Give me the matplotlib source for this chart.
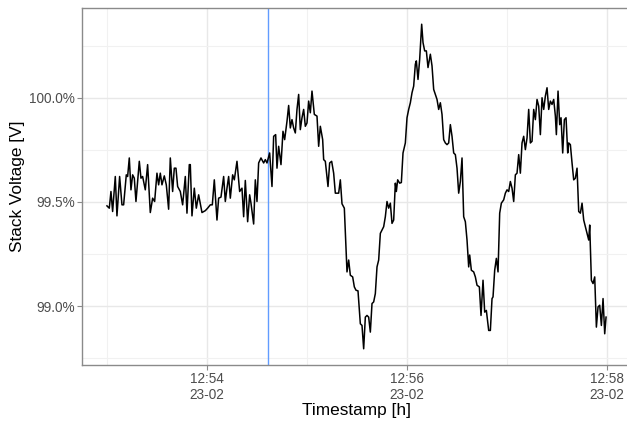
import matplotlib
matplotlib.use("Agg")
import matplotlib.pyplot as plt
import matplotlib.dates as mdates
from matplotlib.ticker import FuncFormatter, MultipleLocator
import numpy as np
import pandas as pd

# ---- data ----
start_time = "2023-02-23 12:53:00"
seconds = [0, 1.4, 2.4, 3.4, 5, 6, 7.6, 9, 10, 11.6, 12.4, 13.4, 14.4, 15.4, 16.4, 17.4, 19.4, 20.4, 21.4, 23,
           24.4, 26, 27.4, 28.6, 30, 31, 32, 33, 34.4, 35.6, 37, 38, 39.4, 40.4, 41.4, 42.4, 44, 45.4, 47, 48,
           49.4, 50, 51, 52.4, 53.6, 55, 57, 59, 60.4, 62, 63.2, 64.4, 66, 67, 68.4, 70, 71, 72, 73, 74,
           75.4, 76.4, 78, 79.6, 81, 82, 83, 84.4, 85.6, 86.4, 88, 89, 90, 91, 92.4, 94, 95, 96, 97.6, 99,
           100, 101.2, 102, 103, 104.4, 105.6, 106.6, 108, 109, 110, 111, 112, 113, 114, 115, 116, 117, 118, 119, 120,
           121, 122, 123, 124.4, 126, 127, 128, 129.4, 130, 131, 132.6, 133.6, 134.8, 136, 137, 139, 140, 141, 142.4, 144,
           145, 146, 147.4, 148.4, 149.4, 150.6, 152, 153, 154, 155, 156, 157, 158, 159, 160, 161, 162, 163, 164, 165,
           166, 167, 168, 169, 170, 171, 172, 173, 173.6, 174.4, 175.6, 176.6, 177.6, 179, 180, 181, 182, 183, 184, 185,
           185.6, 186.6, 187.6, 188.8, 189.6, 190.6, 191.6, 192.6, 194, 195, 196, 197, 198, 199, 200, 201, 202, 203, 204, 205,
           206, 207, 208, 209, 210, 211, 212, 213, 214, 215, 216, 217, 217.6, 218.6, 220, 221, 222, 223.4, 224.4, 225.6,
           226.6, 227.6, 229, 230, 231, 231.6, 232.6, 233.6, 234.6, 235.6, 236.6, 238, 239, 240, 241, 242, 243, 244, 245, 246,
           247, 248, 249, 250, 251, 252, 253, 254, 255, 256, 257, 258, 259, 260, 261, 262, 263, 264, 265, 266,
           267, 268, 269, 269.6, 270.6, 271.6, 272.4, 273.4, 274.4, 275.4, 276.4, 277, 278, 279, 280, 281, 282, 283, 284, 285,
           286, 287, 288, 289, 289.6, 290.6, 291.6, 292.6, 293.6, 294.6, 295.6, 296.6, 297.6, 298.6, 299.4]
voltage = [99.481, 99.470, 99.550, 99.454, 99.622, 99.433, 99.622, 99.486, 99.486, 99.630, 99.622, 99.711, 99.558, 99.630, 99.614, 99.502, 99.695, 99.614, 99.622, 99.558,
           99.679, 99.449, 99.518, 99.502, 99.638, 99.582, 99.638, 99.582, 99.625, 99.582, 99.465, 99.711, 99.550, 99.662, 99.662, 99.574, 99.550, 99.486, 99.622, 99.446,
           99.679, 99.679, 99.433, 99.566, 99.470, 99.534, 99.449, 99.458, 99.470, 99.486, 99.486, 99.606, 99.413, 99.518, 99.523, 99.622, 99.502, 99.566, 99.622, 99.518,
           99.630, 99.606, 99.695, 99.550, 99.566, 99.429, 99.603, 99.405, 99.534, 99.494, 99.394, 99.606, 99.502, 99.687, 99.711, 99.687, 99.703, 99.687, 99.735, 99.574,
           99.815, 99.823, 99.662, 99.767, 99.679, 99.839, 99.799, 99.887, 99.963, 99.855, 99.895, 99.855, 99.831, 99.944, 100.016, 99.847, 99.904, 99.944, 99.863, 99.879,
           99.984, 99.928, 100.032, 99.920, 99.912, 99.767, 99.863, 99.799, 99.703, 99.695, 99.574, 99.687, 99.695, 99.638, 99.542, 99.542, 99.606, 99.491, 99.470, 99.164,
           99.221, 99.148, 99.140, 99.092, 99.076, 99.073, 98.915, 98.907, 98.795, 98.947, 98.955, 98.947, 98.875, 99.012, 99.020, 99.060, 99.188, 99.221, 99.349, 99.365,
           99.381, 99.429, 99.502, 99.470, 99.494, 99.397, 99.413, 99.590, 99.550, 99.606, 99.590, 99.593, 99.735, 99.783, 99.904, 99.944, 99.976, 100.024, 100.056, 100.161,
           100.177, 100.088, 100.185, 100.353, 100.265, 100.225, 100.225, 100.145, 100.209, 100.153, 100.040, 100.016, 99.992, 99.944, 99.976, 99.920, 99.799, 99.783, 99.775, 99.783,
           99.871, 99.815, 99.735, 99.727, 99.662, 99.542, 99.598, 99.711, 99.429, 99.405, 99.317, 99.188, 99.245, 99.172, 99.164, 99.140, 99.100, 99.092, 98.955, 99.124,
           98.971, 98.979, 98.883, 98.883, 99.036, 99.044, 99.172, 99.229, 99.164, 99.446, 99.494, 99.510, 99.542, 99.558, 99.550, 99.598, 99.566, 99.502, 99.630, 99.638,
           99.727, 99.638, 99.783, 99.815, 99.751, 99.807, 99.944, 99.783, 99.791, 99.944, 99.895, 99.992, 99.960, 99.823, 100.000, 99.944, 100.008, 100.048, 99.944, 99.984,
           99.968, 99.992, 99.912, 99.823, 100.032, 99.871, 99.904, 99.735, 99.895, 99.904, 99.735, 99.783, 99.775, 99.687, 99.606, 99.614, 99.662, 99.454, 99.446, 99.494,
           99.413, 99.381, 99.349, 99.317, 99.389, 99.124, 99.108, 99.140, 98.899, 98.996, 99.004, 98.907, 99.036, 98.867, 98.947]
marker_time = "2023-02-23 12:54:36.8"
x_label = "Timestamp [h]"
y_label = "Stack Voltage [V]"

# ---- build ----
t0 = pd.Timestamp(start_time)
times = [t0 + pd.Timedelta(seconds=s) for s in seconds]
times_num = mdates.date2num(times)
vals = np.array(voltage)

plt.rcParams['font.family'] = ['Liberation Sans', 'DejaVu Sans']

W, H = 627, 423
fig = plt.figure(figsize=(W / 100, H / 100), dpi=100)
ax = fig.add_axes([82 / W, 1 - 365 / H, (631 - 82) / W, (365 - 8) / H])

ax.plot(times_num, vals, color='black', lw=1.1, zorder=3)
ax.axvline(mdates.date2num(pd.Timestamp(marker_time)), color='#619CFF', lw=1.0, zorder=2)

# ggplot-like 5% expansion
xr = times_num.max() - times_num.min()
ax.set_xlim(times_num.min() - 0.05 * xr, times_num.max() + 0.05 * xr)
yr = vals.max() - vals.min()
ax.set_ylim(vals.min() - 0.05 * yr, vals.max() + 0.05 * yr)

ax.xaxis.set_major_locator(mdates.MinuteLocator(byminute=range(0, 60, 2)))
ax.xaxis.set_minor_locator(mdates.MinuteLocator(byminute=range(1, 60, 2)))
ax.xaxis.set_major_formatter(mdates.DateFormatter('%H:%M\n%d-%m'))
ax.yaxis.set_major_locator(MultipleLocator(0.5))
ax.yaxis.set_minor_locator(MultipleLocator(0.25))
ax.yaxis.set_major_formatter(FuncFormatter(lambda v, p: f"{v:.1f}%"))

ax.grid(which='major', color='#e8e8e8', lw=1.0, zorder=0)
ax.grid(which='minor', color='#f1f1f1', lw=0.8, zorder=0)
ax.set_axisbelow(True)

for side in ['left', 'bottom', 'top']:
    ax.spines[side].set_color('#8a8a8a')
    ax.spines[side].set_linewidth(1.0)
ax.spines['right'].set_visible(False)

ax.tick_params(which='major', direction='out', length=3.4, width=0.8, color='#8a8a8a',
               labelsize=9.8, labelcolor='#4d4d4d', pad=1.8)
ax.tick_params(which='minor', length=0)
for lab in ax.get_xticklabels():
    lab.set_linespacing(1.15)
    lab.set_horizontalalignment('center')

ax.set_xlabel(x_label, fontsize=12.4, color='black', labelpad=1)
ax.set_ylabel(y_label, fontsize=12.4, color='black', labelpad=3)

fig.savefig('out.png', dpi=100)
